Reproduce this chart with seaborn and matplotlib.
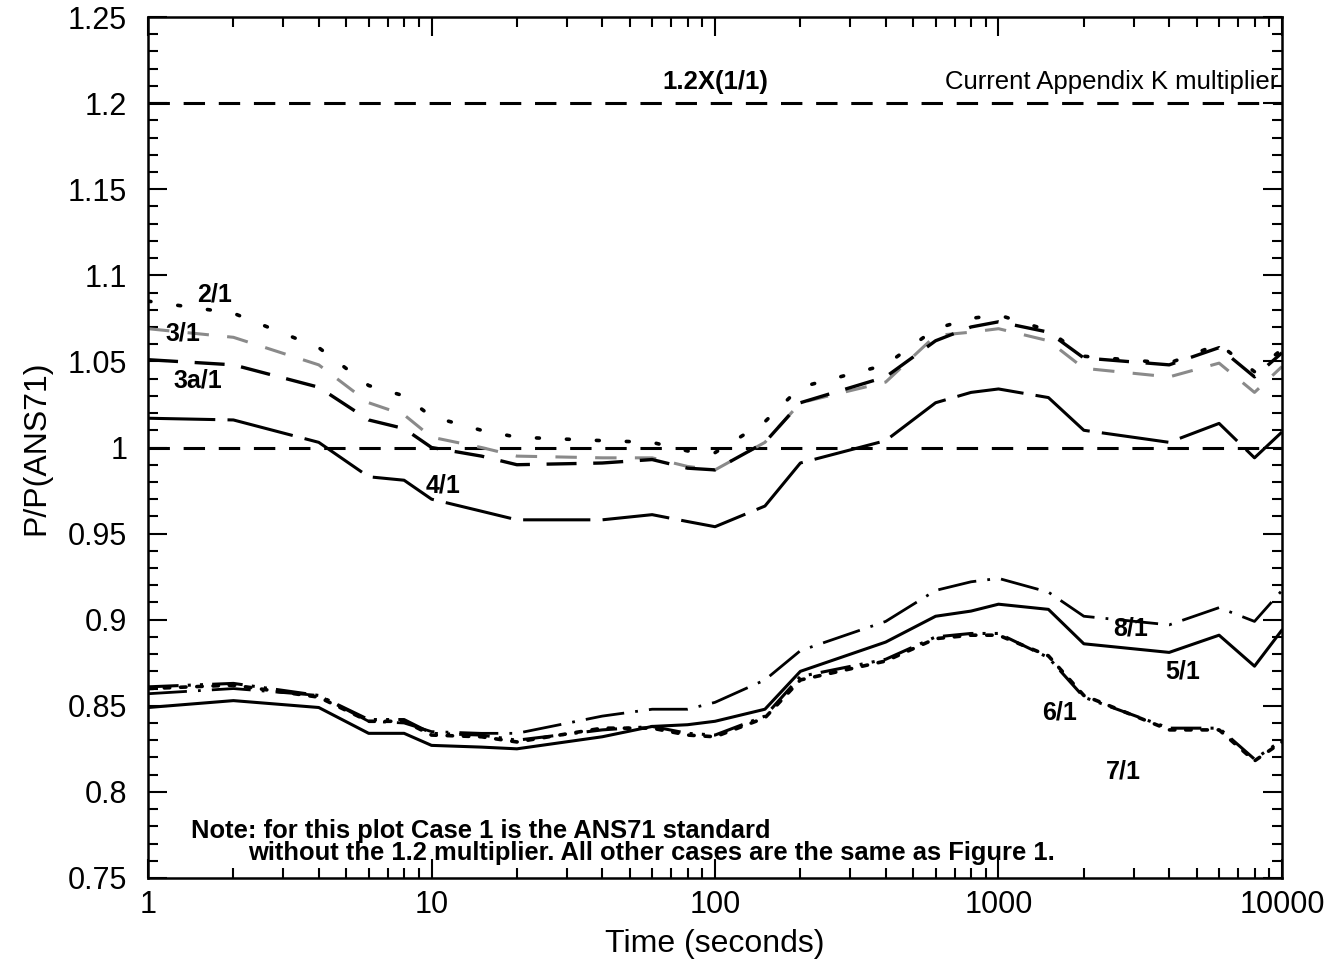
import numpy as np
import pandas as pd
import matplotlib
matplotlib.use("Agg")
import matplotlib.pyplot as plt
from matplotlib.ticker import FixedLocator, FuncFormatter, MultipleLocator, LogLocator, NullFormatter
import seaborn as sns

# ---------------- data ----------------
times = [1, 2, 4, 6, 8, 10, 15, 20, 40, 60, 80, 100, 150, 200, 400, 600, 800,
         1000, 1500, 2000, 4000, 6000, 8000, 10000]

case_2 = [1.085, 1.078, 1.058, 1.036, 1.030, 1.018, 1.010, 1.006, 1.004, 1.003, 0.998, 0.997,
          1.015, 1.035, 1.048, 1.069, 1.075, 1.077, 1.068, 1.053, 1.049, 1.060, 1.044, 1.057]
case_3 = [1.069, 1.064, 1.048, 1.026, 1.019, 1.006, 1.000, 0.995, 0.994, 0.994, 0.989, 0.987,
          1.003, 1.026, 1.038, 1.065, 1.067, 1.069, 1.062, 1.046, 1.041, 1.049, 1.032, 1.047]
case_3a = [1.051, 1.048, 1.035, 1.016, 1.011, 1.000, 0.995, 0.990, 0.991, 0.993, 0.988, 0.987,
           1.003, 1.026, 1.041, 1.062, 1.070, 1.073, 1.067, 1.052, 1.048, 1.058, 1.041, 1.055]
case_4 = [1.017, 1.016, 1.003, 0.983, 0.981, 0.970, 0.963, 0.958, 0.958, 0.961, 0.957, 0.954,
          0.966, 0.991, 1.004, 1.026, 1.032, 1.034, 1.029, 1.010, 1.003, 1.014, 0.994, 1.009]
case_5 = [0.849, 0.853, 0.849, 0.834, 0.834, 0.827, 0.826, 0.825, 0.832, 0.838, 0.839, 0.841,
          0.848, 0.870, 0.887, 0.902, 0.905, 0.909, 0.906, 0.886, 0.881, 0.891, 0.873, 0.894]
case_6 = [0.861, 0.863, 0.856, 0.842, 0.842, 0.834, 0.833, 0.830, 0.836, 0.838, 0.834, 0.833,
          0.844, 0.867, 0.877, 0.890, 0.892, 0.892, 0.878, 0.855, 0.837, 0.837, 0.819, 0.830]
case_7 = [0.860, 0.862, 0.855, 0.841, 0.841, 0.833, 0.832, 0.829, 0.837, 0.837, 0.833, 0.832,
          0.843, 0.865, 0.876, 0.889, 0.891, 0.891, 0.879, 0.856, 0.836, 0.836, 0.818, 0.829]
case_8 = [0.857, 0.860, 0.856, 0.841, 0.840, 0.835, 0.834, 0.834, 0.844, 0.848, 0.848, 0.852,
          0.865, 0.882, 0.899, 0.917, 0.922, 0.924, 0.916, 0.902, 0.897, 0.907, 0.899, 0.917]

ref_levels = [1.0, 1.2]

y_ticks = [0.75, 0.8, 0.85, 0.9, 0.95, 1.0, 1.05, 1.1, 1.15, 1.2, 1.25]
x_ticks = [1, 10, 100, 1000, 10000]

series = {
    "2/1": case_2, "3/1": case_3, "3a/1": case_3a, "4/1": case_4,
    "5/1": case_5, "6/1": case_6, "7/1": case_7, "8/1": case_8,
}

styles = {
    "2/1": dict(color="black", lw=2.6, linestyle=(0, (0.8, 7.5)), dash_capstyle="round"),
    "3/1": dict(color="#8a8a8a", lw=2.2, linestyle=(0, (7, 6))),
    "3a/1": dict(color="black", lw=2.4, linestyle=(0, (9, 5))),
    "4/1": dict(color="black", lw=2.2, linestyle=(0, (22, 4))),
    "5/1": dict(color="black", lw=2.2, linestyle="-"),
    "6/1": dict(color="black", lw=2.2, linestyle=(0, (10, 3, 1, 3, 1, 3))),
    "7/1": dict(color="black", lw=2.6, linestyle=(0, (1.5, 3)), dash_capstyle="round"),
    "8/1": dict(color="black", lw=2.0, linestyle=(0, (14, 4, 1, 4))),
}

df = pd.DataFrame({"time": times, **series})

# ---------------- figure ----------------
sns.set_style("ticks")
plt.rcParams["font.family"] = ["Liberation Sans", "DejaVu Sans"]
plt.rcParams["text.color"] = "black"
plt.rcParams["axes.labelcolor"] = "black"
plt.rcParams["xtick.color"] = "black"
plt.rcParams["ytick.color"] = "black"

fig = plt.figure(figsize=(13.34, 9.63), dpi=100)
ax = fig.add_axes([0.111, 0.0883, 0.850, 0.894])
ax.set_xscale("log")

for lvl in ref_levels:
    ax.axhline(lvl, color="black", lw=2.2, linestyle=(0, (7, 4.5)), zorder=1)

for name in series:
    sns.lineplot(data=df, x="time", y=name, ax=ax, estimator=None, sort=False, **styles[name])

ax.set_xlim(1, 10000)
ax.set_ylim(0.75, 1.25)

ax.yaxis.set_major_locator(FixedLocator(y_ticks))
ax.yaxis.set_major_formatter(FuncFormatter(lambda v, p: f"{v:g}"))
ax.yaxis.set_minor_locator(MultipleLocator(0.01))
ax.xaxis.set_major_locator(FixedLocator(x_ticks))
ax.xaxis.set_major_formatter(FuncFormatter(lambda v, p: f"{v:g}"))
ax.xaxis.set_minor_locator(LogLocator(base=10, subs=np.arange(2, 10)))
ax.xaxis.set_minor_formatter(NullFormatter())

ax.tick_params(which="both", direction="in", top=True, right=True, colors="black", width=1.5)
ax.tick_params(which="major", length=14, labelsize=22)
ax.tick_params(axis="y", which="major", pad=15)
ax.tick_params(axis="x", which="major", pad=9)
ax.tick_params(which="minor", length=7)
for sp in ax.spines.values():
    sp.set_linewidth(1.8)
    sp.set_color("black")

ax.set_xlabel("Time (seconds)", fontsize=23, labelpad=6)
ax.set_ylabel("P/P(ANS71)", fontsize=23, labelpad=12)

# ---------------- annotations ----------------
lab = dict(fontsize=18, fontweight="bold", ha="center", va="center", color="black")
ax.text(1.72, 1.089, "2/1", **lab)
ax.text(1.33, 1.066, "3/1", **lab)
ax.text(1.50, 1.039, "3a/1", **lab)
ax.text(11.0, 0.978, "4/1", **lab)
ax.text(2930, 0.895, "8/1", **lab)
ax.text(4450, 0.870, "5/1", **lab)
ax.text(1640, 0.846, "6/1", **lab)
ax.text(2750, 0.812, "7/1", **lab)
ax.text(100, 1.2125, "1.2X(1/1)", fontsize=18.5, fontweight="bold", ha="center", va="center")
ax.text(9700, 1.2125, "Current Appendix K multiplier", fontsize=18.5, ha="right", va="center")
ax.text(1.42, 0.7775, "Note: for this plot Case 1 is the ANS71 standard",
        fontsize=18.4, fontweight="bold", ha="left", va="center")
ax.text(2.25, 0.7645, "without the 1.2 multiplier. All other cases are the same as Figure 1.",
        fontsize=18.4, fontweight="bold", ha="left", va="center")

fig.savefig("out.png", dpi=100)
